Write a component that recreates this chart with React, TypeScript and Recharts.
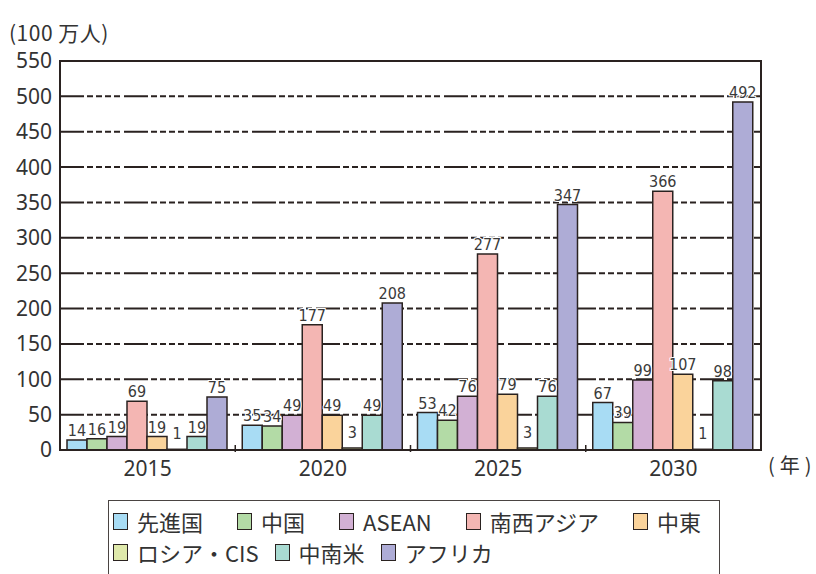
import React from 'react';
import { BarChart, Bar, XAxis, YAxis, CartesianGrid, ReferenceArea, LabelList } from 'recharts';

const years = ['2015', '2020', '2025', '2030'];
const seriesNames = ['先進国', '中国', 'ASEAN', '南西アジア', '中東', 'ロシア・CIS', '中南米', 'アフリカ'];
const seriesColors = ['#a8dcf4', '#b3dba6', '#d2b0d4', '#f4b6b3', '#fad39b', '#dfe9ab', '#a9dbd2', '#aeacd6'];
const developed = [14, 35, 53, 67];
const china = [16, 34, 42, 39];
const asean = [19, 49, 76, 99];
const southWestAsia = [69, 177, 277, 366];
const middleEast = [19, 49, 79, 107];
const russiaCis = [1, 3, 3, 1];
const latinAmerica = [19, 49, 76, 98];
const africa = [75, 208, 347, 492];
const yTicks = [0, 50, 100, 150, 200, 250, 300, 350, 400, 450, 500, 550];

const seriesValues = [developed, china, asean, southWestAsia, middleEast, russiaCis, latinAmerica, africa];
const keys = ['s0', 's1', 's2', 's3', 's4', 's5', 's6', 's7'];

const data = years.map((y, i) => {
  const row: any = { year: y };
  keys.forEach((k, j) => { row[k] = seriesValues[j][i]; });
  return row;
});

const W = 816;
const H = 574;
const M = { top: 61, right: 55, bottom: 94, left: 0 };
const Y_AXIS_W = 60;
const X_AXIS_H = 30;
const plotW = W - M.left - M.right - Y_AXIS_W;
const band = plotW / years.length;
const INK = '#2a2220';
const TEXT = '#333';

const XTick = (props: any) => {
  const { x, y, payload, index } = props;
  return (
    <g>
      <text x={x} y={y + 24} textAnchor="middle" fontSize={21} fill={TEXT} fontFamily="'Noto Sans', sans-serif">{payload.value}</text>
      {index < years.length - 1 && (
        <line x1={x + band / 2} x2={x + band / 2} y1={y} y2={y - 7} stroke={INK} strokeWidth={1.5} />
      )}
    </g>
  );
};

const ValueLabel = (props: any) => {
  const { x, y, width, value } = props;
  const extra = value < 5 ? 6 : 0;
  return (
    <text
      x={x + width / 2}
      y={y - 4 - extra}
      textAnchor="middle"
      fontSize={16}
      fill="#3a3a3a"
      fontFamily="'Liberation Sans Narrow','DejaVu Sans Condensed','Roboto Condensed',sans-serif"
      style={{ paintOrder: 'stroke' }}
      stroke="#fff"
      strokeWidth={2}
    >
      {value}
    </text>
  );
};

const legendRows = [[0, 1, 2, 3, 4], [5, 6, 7]];
const legendGaps = [34, 16];

export default function App() {
  return (
    <div style={{ position: 'absolute', left: 0, top: 0, width: W, height: H, background: '#fff', overflow: 'hidden' }}>
      <div style={{ position: 'absolute', left: 9, top: 17, fontSize: 21, letterSpacing: 0.5, color: TEXT, fontFamily: "'Noto Sans CJK JP', sans-serif", whiteSpace: 'nowrap' }}>
        (100 万人)
      </div>
      <div style={{ position: 'absolute', left: 768, top: 450, fontSize: 20, letterSpacing: 5, color: TEXT, fontFamily: "'Noto Sans CJK JP', sans-serif", whiteSpace: 'nowrap' }}>
        (年)
      </div>
      <BarChart width={W} height={H} data={data} margin={M} barCategoryGap={7} barGap={0}>
        <CartesianGrid vertical={false} stroke={INK} strokeWidth={2} strokeDasharray="24 3 6 3 6 3 6 3 6 4" />
        <ReferenceArea y1={0} y2={550} fill="none" stroke={INK} strokeWidth={2} ifOverflow="visible" />
        <XAxis dataKey="year" tick={<XTick />} tickLine={false} tickSize={0} axisLine={{ stroke: INK, strokeWidth: 2 }} height={X_AXIS_H} interval={0} />
        <YAxis
          domain={[0, 550]}
          ticks={yTicks}
          width={Y_AXIS_W}
          tickLine={false}
          axisLine={{ stroke: INK, strokeWidth: 2 }}
          tick={{ fontSize: 21, fill: TEXT, fontFamily: "'Noto Sans', sans-serif" }}
          interval={0}
        />
        {keys.map((k, j) => (
          <Bar key={k} dataKey={k} name={seriesNames[j]} fill={seriesColors[j]} stroke={INK} strokeWidth={1.5} isAnimationActive={false}>
            <LabelList dataKey={k} content={<ValueLabel />} />
          </Bar>
        ))}
      </BarChart>
      <div style={{ position: 'absolute', left: 108, top: 500, width: 612, height: 90, border: '1.5px solid #4a4442', boxSizing: 'border-box', fontFamily: "'Noto Sans CJK JP', sans-serif", fontSize: 22, color: TEXT }}>
        {legendRows.map((row, ri) => (
          <div key={ri} style={{ position: 'absolute', left: 4, top: ri === 0 ? 7 : 38, display: 'flex', alignItems: 'center', whiteSpace: 'nowrap' }}>
            {row.map((j) => (
              <div key={j} style={{ display: 'flex', alignItems: 'center', marginRight: legendGaps[ri] }}>
                <span style={{ display: 'inline-block', width: 15, height: 17, background: seriesColors[j], border: `1.5px solid ${INK}`, boxSizing: 'border-box', marginRight: 9 }} />
                <span style={{ lineHeight: '26px' }}>{seriesNames[j]}</span>
              </div>
            ))}
          </div>
        ))}
      </div>
    </div>
  );
}
